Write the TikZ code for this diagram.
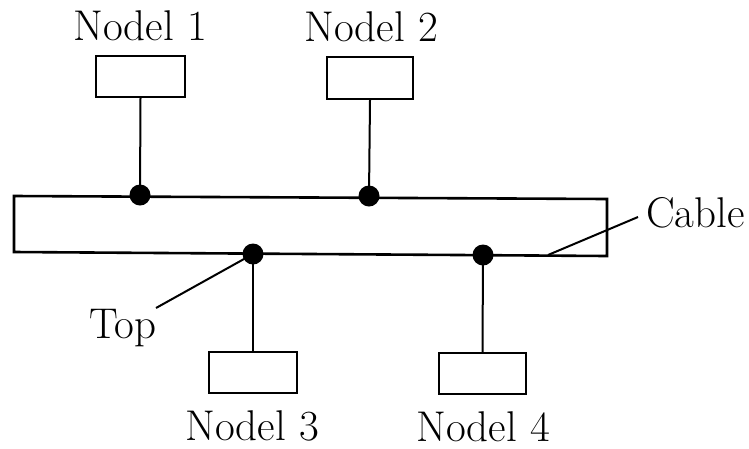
\documentclass[tikz,border=0pt]{standalone}
\begin{document}
\begin{tikzpicture}[x=1pt,y=-1pt,
  box/.style={draw,line width=2.2pt,inner sep=0pt,minimum width=87pt,minimum height=41pt},
  lbl/.style={inner sep=0pt,anchor=base,font=\fontsize{43}{45}\selectfont},
  tap/.style={circle,fill=black,inner sep=0pt,minimum size=21pt},
  wire/.style={line width=2pt},
  cable/.style={line width=2.6pt,line join=miter}]
\useasboundingbox (0,0) rectangle (749,448);
% cable
\coordinate (c1) at (14,196);
\coordinate (c2) at (607,199);
\coordinate (c3) at (607,256);
\coordinate (c4) at (14,252);
\draw[cable] (c1) -- (c2) -- (c3) -- (c4) -- cycle;
% taps
\node[tap] (t1) at (140,195) {};
\node[tap] (t2) at (369,196) {};
\node[tap] (t3) at (253,254) {};
\node[tap] (t4) at (483,255) {};
% boxes
\node[box,minimum width=89pt] (b1) at (140.5,76.5) {};
\node[box,minimum width=86pt,minimum height=42pt] (b2) at (370,78) {};
\node[box,minimum width=88pt] (b3) at (253,372.5) {};
\node[box] (b4) at (482.5,373.5) {};
% labels
\node[lbl] (l1) at (140,40) {Nodel 1};
\node[lbl] (l2) at (371,41) {Nodel 2};
\node[lbl] (l3) at (252,440) {Nodel 3};
\node[lbl] (l4) at (483,441) {Nodel 4};
\node[lbl,anchor=base west] (lc) at (646,227) {Cable};
\node[lbl,anchor=base west] (lt) at (89,338) {Top};
% stems
\draw[wire] (b1.south) -- (t1.center);
\draw[wire] (b2.south) -- (t2.center);
\draw[wire] (b3.north) -- (t3.center);
\draw[wire] (b4.north) -- (t4.center);
% leaders
\coordinate (cl1) at (548,255);
\coordinate (cl2) at (638,217);
\draw[wire] (cl1) -- (cl2);
\coordinate (tl2) at (156,308);
\draw[wire] (t3.center) -- (tl2);
\end{tikzpicture}
\end{document}
